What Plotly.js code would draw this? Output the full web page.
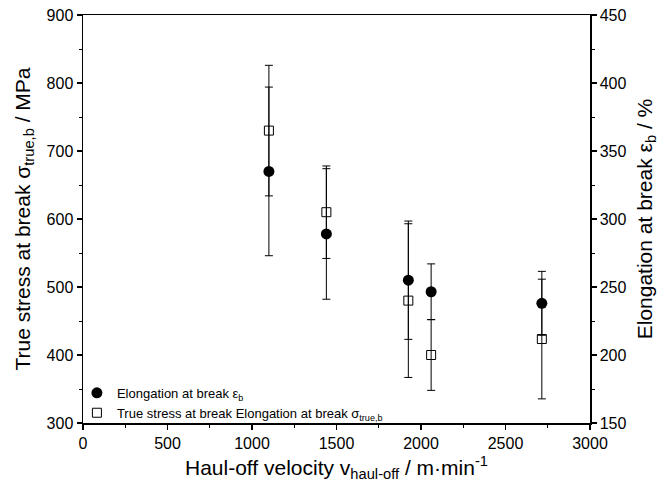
<!DOCTYPE html>
<html>
<head>
<meta charset="utf-8">
<script src="https://cdn.plot.ly/plotly-3.0.1.min.js"></script>
<style>html,body{margin:0;padding:0;background:#fff;}#chart{width:659px;height:496px;}</style>
</head>
<body>
<div id="chart"></div>
<script>
// Haul-off velocity (m/min)
var velocity = [1100, 1440, 1925, 2060, 2715];
// Elongation at break (%), right axis
var elongation = [335, 289, 255, 246.5, 238];
var elongationErr = [62, 48, 43.5, 20.5, 23.5];
// True stress at break (MPa), left axis
var trueStress = [730, 610, 480, 400, 423.5];
var trueStressErr = [96, 68, 113, 52, 88];

var font = 'Liberation Sans, Arial, sans-serif';

var traces = [
  {
    x: velocity, y: elongation, yaxis: 'y2', type: 'scatter', mode: 'markers',
    name: 'Elongation at break ε<sub>b</sub>',
    marker: {symbol: 'circle', size: 11, color: '#000'},
    error_y: {type: 'data', array: elongationErr, visible: true, color: '#000', thickness: 1, width: 4}
  },
  {
    x: velocity, y: trueStress, yaxis: 'y', type: 'scatter', mode: 'markers',
    name: 'True stress at break Elongation at break σ<sub>true,b</sub>',
    marker: {symbol: 'square-open', size: 9, color: '#000', line: {width: 1, color: '#000'}},
    error_y: {type: 'data', array: trueStressErr, visible: true, color: '#000', thickness: 1, width: 4}
  }
];

var layout = {
  width: 659, height: 496,
  margin: {l: 83, r: 69, t: 15, b: 73},
  paper_bgcolor: '#fff', plot_bgcolor: '#fff',
  font: {family: font, size: 16, color: '#000'},
  showlegend: true,
  legend: {
    x: -0.012, y: -0.012, xanchor: 'left', yanchor: 'bottom',
    bgcolor: 'rgba(0,0,0,0)', font: {size: 13, family: font},
    tracegroupgap: 0, itemwidth: 30
  },
  xaxis: {
    range: [0, 3000], tickvals: [0, 500, 1000, 1500, 2000, 2500, 3000],
    showline: true, linecolor: '#000', linewidth: 1.5, mirror: true,
    ticks: 'outside', ticklen: 5, tickwidth: 1.2, tickcolor: '#000',
    minor: {dtick: 250, ticks: 'outside', ticklen: 3, tickwidth: 1, tickcolor: '#000'},
    showgrid: false, zeroline: false,
    tickfont: {size: 16},
    title: {text: 'Haul-off velocity v<sub>haul-off</sub> / m·min<sup>-1</sup>', font: {size: 21}, standoff: 9}
  },
  yaxis: {
    range: [300, 900], dtick: 100,
    showline: true, linecolor: '#000', linewidth: 1.5,
    ticks: 'outside', ticklen: 5, tickwidth: 1.2, tickcolor: '#000',
    minor: {dtick: 50, ticks: 'outside', ticklen: 3, tickwidth: 1, tickcolor: '#000'},
    showgrid: false, zeroline: false,
    tickfont: {size: 16},
    title: {text: 'True stress at break σ<sub>true,b</sub> / MPa', font: {size: 21}, standoff: 10}
  },
  yaxis2: {
    range: [150, 450], dtick: 50, overlaying: 'y', side: 'right',
    showline: true, linecolor: '#000', linewidth: 1.5,
    ticks: 'outside', ticklen: 5, tickwidth: 1.2, tickcolor: '#000',
    minor: {dtick: 25, ticks: 'outside', ticklen: 3, tickwidth: 1, tickcolor: '#000'},
    showgrid: false, zeroline: false,
    tickfont: {size: 16},
    title: {text: 'Elongation at break ε<sub>b</sub> / %', font: {size: 21}, standoff: 12}
  }
};

Plotly.newPlot('chart', traces, layout, {displayModeBar: false, staticPlot: true});
</script>
</body>
</html>
